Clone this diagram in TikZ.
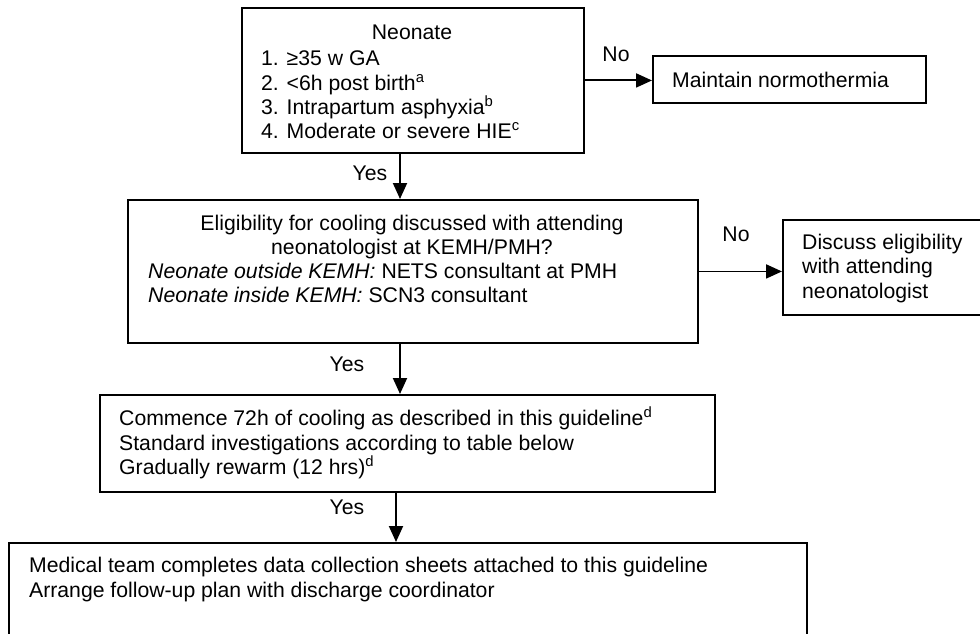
\documentclass[tikz,border=0pt]{standalone}
\usepackage{fontspec}
\setmainfont{Liberation Sans}
\usetikzlibrary{arrows.meta}
\begin{document}
\begin{tikzpicture}[x=1pt,y=-1pt,
  box/.style={draw, line width=1.9pt, anchor=north west, inner sep=0pt},
  txt/.style={anchor=base west, inner sep=0pt, font=\fontsize{21.2}{25}\selectfont},
  ctxt/.style={txt, anchor=base},
  arr/.style={line width=1.9pt, -{Triangle[length=16pt,width=14pt]}}]
\clip (0,0) rectangle (980,634);
\fill[white] (0,0) rectangle (980,634);
% boxes
\node[box, minimum width=342pt, minimum height=145pt] (top) at (241,7) {};
\node[box, minimum width=273pt, minimum height=47pt] (maint) at (652,55) {};
\node[box, minimum width=570pt, minimum height=143pt] (elig) at (127,199) {};
\node[box, minimum width=215pt, minimum height=95pt] (disc) at (782,219) {};
\node[box, minimum width=615pt, minimum height=97pt] (comm) at (99,394) {};
\node[box, minimum width=798pt, minimum height=120pt] (med) at (8,542) {};
% texts top
\node[ctxt] (t0) at (412,40) {Neonate};
\node[txt] (t1) at (261,66) {1. ≥35 w GA};
\node[txt] (t2) at (261,90) {2. <6h post birth\textsuperscript{a}};
\node[txt] (t3) at (261,114.5) {3. Intrapartum asphyxia\textsuperscript{b}};
\node[txt] (t4) at (261,138.5) {4. Moderate or severe HIE\textsuperscript{c}};
\node[txt] (m0) at (672,87.5) {Maintain normothermia};
% eligibility
\node[ctxt] (e1) at (412,230.5) {Eligibility for cooling discussed with attending};
\node[ctxt] (e2) at (412,254.5) {neonatologist at KEMH/PMH?};
\node[txt] (e3) at (148,278.5) {\textit{Neonate outside KEMH:} NETS consultant at PMH};
\node[txt] (e4) at (148,302.5) {\textit{Neonate inside KEMH:} SCN3 consultant};
\node[txt] (d1) at (802,249.5) {Discuss eligibility};
\node[txt] (d2) at (802,273.5) {with attending};
\node[txt] (d3) at (802,298.5) {neonatologist};
% commence
\node[txt] (c1) at (119,425.5) {Commence 72h of cooling as described in this guideline\textsuperscript{d}};
\node[txt] (c2) at (119,450) {Standard investigations according to table below};
\node[txt] (c3) at (119,474.5) {Gradually rewarm (12 hrs)\textsuperscript{d}};
% medical
\node[txt] (md1) at (29,572.5) {Medical team completes data collection sheets attached to this guideline};
\node[txt] (md2) at (29,597.5) {Arrange follow-up plan with discharge coordinator};
% connectors
\coordinate (ax1) at (400,0);
\coordinate (ax2) at (396,0);
\draw[arr] (top.east) -- (top.east -| maint.west);
\draw[arr] (elig.east) -- (elig.east -| disc.west);
\draw[arr] (top.south -| ax1) -- (elig.north -| ax1);
\draw[arr] (elig.south -| ax1) -- (comm.north -| ax1);
\draw[arr] (comm.south -| ax2) -- (med.north -| ax2);
% labels
\node[ctxt] (no1) at (616,61.5) {No};
\node[ctxt] (no2) at (736,241.5) {No};
\node[ctxt] (y1) at (370,180.5) {Yes};
\node[ctxt] (y2) at (347,371.5) {Yes};
\node[ctxt] (y3) at (347,514.5) {Yes};
\end{tikzpicture}
\end{document}
